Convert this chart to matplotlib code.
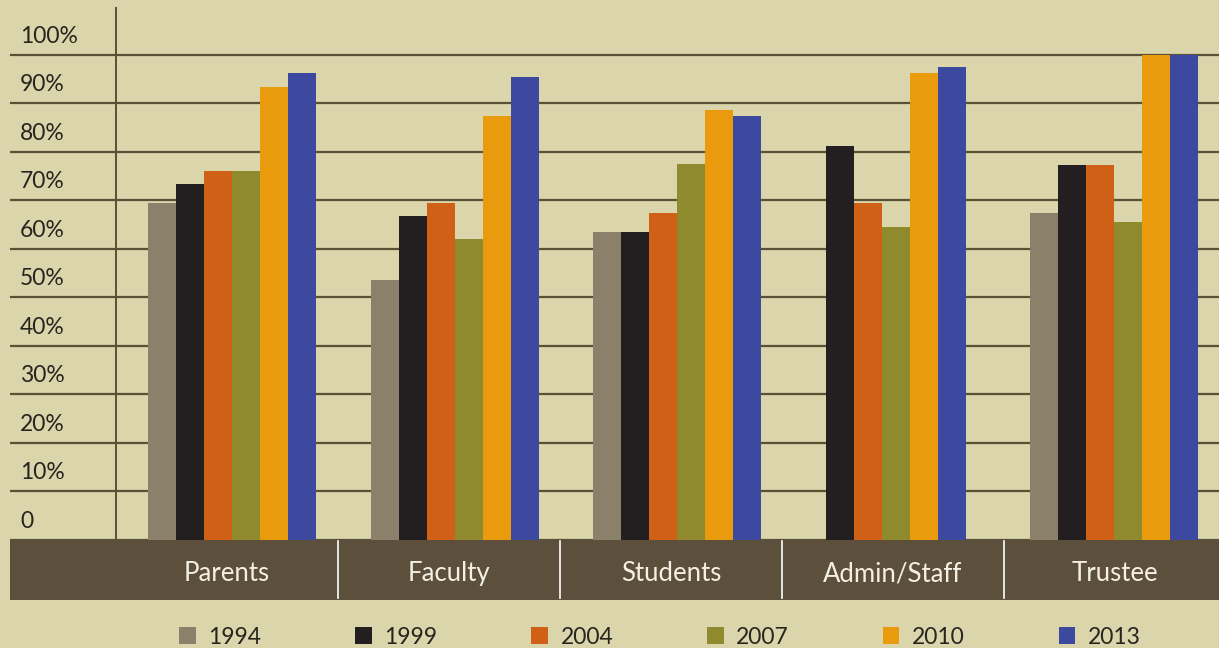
import matplotlib
matplotlib.use("Agg")
import matplotlib.pyplot as plt
from matplotlib.patches import Patch
import numpy as np

plt.rcParams['font.family'] = ['Lato', 'DejaVu Sans']

categories = ['Parents', 'Faculty', 'Students', 'Admin/Staff', 'Trustee']
years = ['1994', '1999', '2004', '2007', '2010', '2013']

# percent values per year, one entry per category
v1994 = [69.4, 53.5, 63.3, 0, 67.4]
v1999 = [73.2, 66.6, 63.3, 81.2, 77.2]
v2004 = [76.0, 69.4, 67.4, 69.4, 77.2]
v2007 = [76.0, 62.0, 77.4, 64.4, 65.5]
v2010 = [93.2, 87.3, 88.6, 96.1, 100]
v2013 = [96.1, 95.3, 87.3, 97.4, 100]
series = [v1994, v1999, v2004, v2007, v2010, v2013]

colors = ['#8b816a', '#231f20', '#d06016', '#8f8a2d', '#e99b0d', '#3c499e']
yticks = [0, 10, 20, 30, 40, 50, 60, 70, 80, 90, 100]
ytick_labels = ['0'] + ['%d%%' % t for t in yticks[1:]]

bg = '#dbd5ab'
band = '#5c4f3b'
line = '#5a5036'

W, H = 1219, 648
fig = plt.figure(figsize=(W / 100, H / 100), dpi=100, facecolor=bg)

# pixel layout of the plot: cells are 222px wide, first centred at x=227
cell = 222.0
c0 = 227.0
left_px, top_px, zero_px = 10, 7, 539.5
px_per_pct = 4.85

ax = fig.add_axes([left_px / W, (H - zero_px) / H, 1 - left_px / W, (zero_px - top_px) / H])
ax.set_facecolor(bg)
xlim = ((left_px - c0) / cell, (W - c0) / cell)
ax.set_xlim(*xlim)
ax.set_ylim(0, (zero_px - top_px) / px_per_pct)
for s in ax.spines.values():
    s.set_visible(False)
ax.set_xticks([])
ax.set_yticks([])

for t in yticks:
    ax.axhline(t, color=line, lw=1.6, zorder=1)
ax.axvline(-0.5, color=line, lw=1.4, zorder=1)

# small shifts of each group inside its cell (pixels)
group_shift = [5, 6, 6, -11, -1]
x = np.arange(len(categories)) + np.array(group_shift) / cell
bw = 28 / cell
for j, vals in enumerate(series):
    ax.bar(x + (j - 2.5) * bw, vals, width=bw, color=colors[j], zorder=2, linewidth=0)

for t, lab in zip(yticks, ytick_labels):
    ax.annotate(lab, xy=(20, t), xycoords=('figure pixels', 'data'),
                xytext=(0, 13.3), textcoords='offset points',
                ha='left', va='center', fontsize=16.5, color='#26251e')

# category band under the bars
bax = fig.add_axes([left_px / W, (H - 600) / H, 1 - left_px / W, (600 - zero_px) / H])
bax.set_facecolor(band)
bax.set_xlim(*xlim)
bax.set_ylim(0, 1)
for s in bax.spines.values():
    s.set_visible(False)
bax.set_xticks([])
bax.set_yticks([])
for k in range(1, len(categories)):
    bax.axvline(k - 0.5, ymin=0.03, ymax=0.97, color='white', lw=1.2)
for i, c in enumerate(categories):
    bax.text(i, 0.43, c, ha='center', va='center', color='#f4f0e4', fontsize=18.5)

handles = [Patch(facecolor=colors[j], edgecolor='none') for j in range(len(years))]
fig.legend(handles, years, loc='center', bbox_to_anchor=(660 / W, (H - 637) / H),
           ncol=6, frameon=False, fontsize=16.5, handlelength=0.72, handleheight=0.72,
           handletextpad=0.55, columnspacing=4.1, labelcolor='#26251e')

fig.savefig('out.png', dpi=100, facecolor=bg)
